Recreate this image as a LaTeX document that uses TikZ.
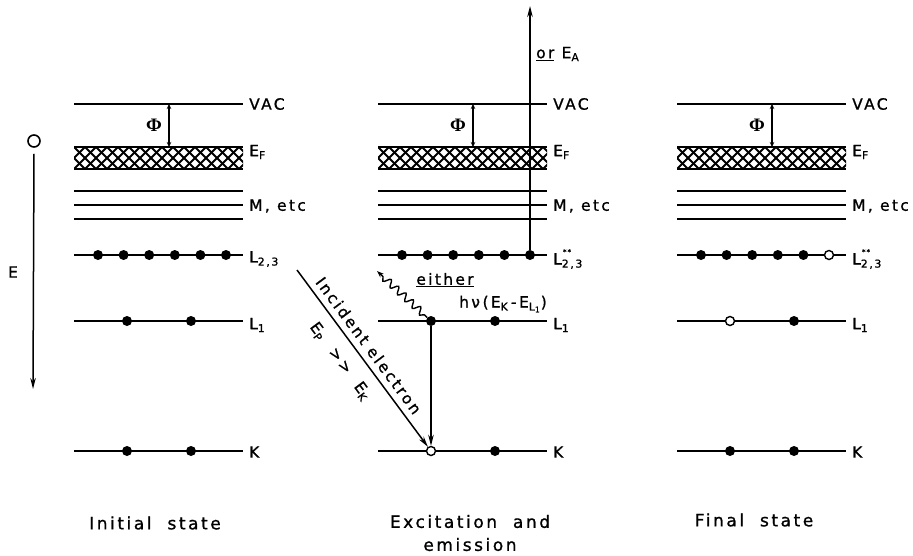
\documentclass[tikz,border=0pt]{standalone}
\usepackage{fontspec}
\usetikzlibrary{arrows.meta,decorations.pathmorphing}
\newfontfamily\labfont{DejaVu Sans}[LetterSpace=15,FakeBold=1]
\newfontfamily\phifont{Liberation Serif}
\begin{document}
\begin{tikzpicture}[x=1pt,y=-1pt,
  lvl/.style={line width=2pt},
  bandline/.style={line width=2.6pt},
  hatch/.style={line width=1.8pt},
  edot/.style={circle, fill=black, inner sep=0pt, minimum size=10pt},
  ehole/.style={circle, draw=black, fill=white, line width=1.4pt, inner sep=0pt, minimum size=9pt},
  lbl/.style={anchor=west, inner sep=0pt, font=\labfont\fontsize{15.5}{18}\selectfont},
  txt/.style={inner sep=0pt, font=\labfont\fontsize{15.5}{18}\selectfont},
  captxt/.style={inner sep=0pt, align=center, font=\labfont\fontsize{17}{23}\selectfont},
  phiarr/.style={{Stealth[length=5pt,width=4.5pt]}-{Stealth[length=5pt,width=4.5pt]}, line width=1.6pt},
  arr/.style={-{Stealth[length=11pt,width=5.5pt]}, line width=1.5pt}]
\useasboundingbox (0,0) rectangle (913,555);

\foreach \X/\p/\sfive/\lone/\kone/\sst in {74/a/edot/edot/edot/{}, 378/b/edot/edot/ehole/{**}, 677/c/ehole/ehole/edot/{**}}{
  % vacuum level
  \draw[lvl] (\X,104) -- ++(169,0);
  % Fermi band (cross-hatched)
  \begin{scope}
    \clip (\X,147) rectangle ++(169,22);
    \foreach \k in {-3,...,17}{
      \draw[hatch] (\X+\k*11,147) -- ++(22,22);
      \draw[hatch] (\X+\k*11,169) -- ++(22,-22);
    }
  \end{scope}
  \draw[bandline] (\X,147) -- ++(169,0);
  \draw[bandline] (\X,169) -- ++(169,0);
  % M levels
  \draw[lvl] (\X,191) -- ++(169,0);
  \draw[lvl] (\X,205) -- ++(169,0);
  \draw[lvl] (\X,219) -- ++(169,0);
  % L23, L1, K levels
  \draw[lvl] (\X,255) -- ++(169,0);
  \draw[lvl] (\X,321) -- ++(169,0);
  \draw[lvl] (\X,451) -- ++(169,0);
  % work function
  \coordinate (\p-phitop) at (\X+95,104);
  \coordinate (\p-phibot) at (\X+95,147);
  \draw[phiarr] (\p-phitop) -- (\p-phibot);
  \node[inner sep=0pt, font=\phifont\bfseries\fontsize{19}{22}\selectfont] (\p-phi) at (\X+80,125) {Φ};
  % electrons
  \foreach \i in {0,...,4}{
    \node[edot] (\p-l2\i) at (\X+24+25.6*\i,255) {};
  }
  \node[\sfive] (\p-l25) at (\X+152,255) {};
  \node[\lone] (\p-l1a) at (\X+53,321) {};
  \node[edot] (\p-l1b) at (\X+117,321) {};
  \node[\kone] (\p-ka) at (\X+53,451) {};
  \node[edot] (\p-kb) at (\X+117,451) {};
  % labels
  \node[lbl] (\p-vac) at (\X+175,104) {VAC};
  \node[lbl] (\p-ef) at (\X+175,152) {E\textsubscript{F}};
  \node[lbl] (\p-m) at (\X+175,206) {M, etc};
  \node[lbl] (\p-l23) at (\X+175,259) {L\rlap{\raisebox{1.2ex}{\scriptsize\,\sst}}\textsubscript{2,3}};
  \node[lbl] (\p-l1) at (\X+175,325) {L\textsubscript{1}};
  \node[lbl] (\p-k) at (\X+175,452) {K};
}

% energy axis
\node[circle, draw=black, line width=1.6pt, minimum size=12pt, inner sep=0pt] (zero) at (34,141) {};
\coordinate (eend) at (33,389);
\draw[arr] ([yshift=-6pt]zero.south) -- (eend);
\node[txt] (elab) at (13,272) {E};

% Auger electron
\coordinate (augtop) at (530,6);
\draw[arr] (b-l25) -- (augtop);
\node[lbl] (orea) at (536,54) {\underline{or} E\textsubscript{A}};

% L1 -> K transition
\draw[arr] (b-l1a) -- (b-ka);

% incident electron
\coordinate (inc) at (297,270);
\draw[arr] (inc) -- (b-ka)
  node[pos=0.47, sloped, above=6pt, txt] (inclab) {Incident electron}
  node[pos=0.45, sloped, below=12pt, txt] (eplab) {E\textsubscript{P}\ \ >>\ \ E\textsubscript{K}};

% X-ray photon
\coordinate (photon) at (377,271);
\draw[line width=1.4pt, decorate, decoration={snake, amplitude=3.5pt, segment length=10pt, pre length=4pt, post length=7pt}, -{Stealth[length=7pt,width=5pt]}] (b-l1a) -- (photon);
\node[txt] (either) at (445,280) {\underline{either}};
\node[txt] (hnu) at (503,304) {hν\,(E\textsubscript{K}\,-\,E\textsubscript{L\textsubscript{1}})};

% captions
\node[captxt] (capa) at (155,523) {Initial\ \ state};
\node[captxt] (capb) at (470,533) {Excitation\ \ and\\emission};
\node[captxt] (capc) at (754,520) {Final\ \ state};
\end{tikzpicture}
\end{document}
